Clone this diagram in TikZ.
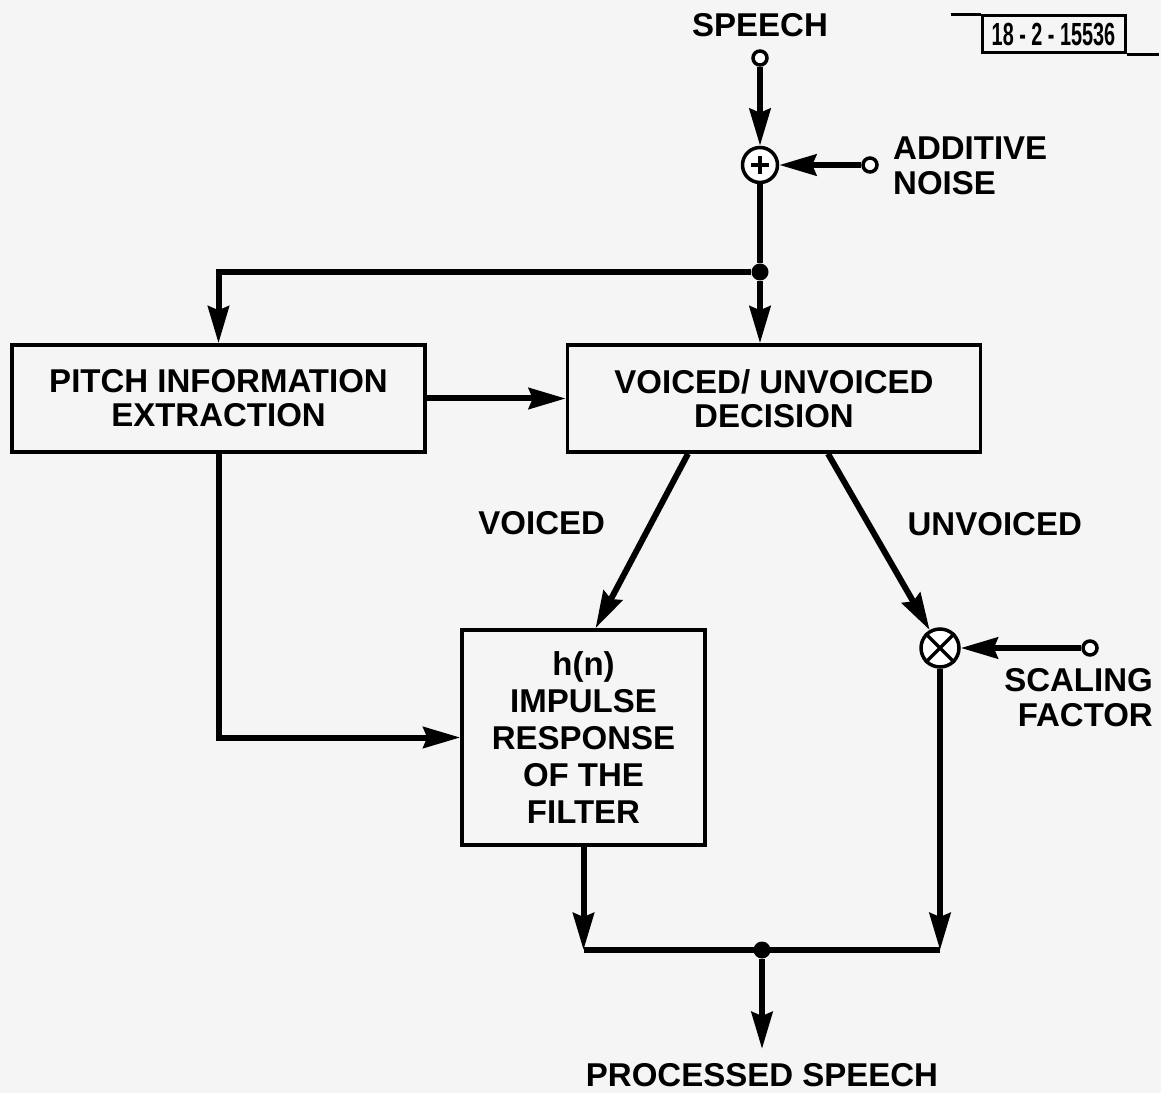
\documentclass[tikz,border=0pt]{standalone}
\usepackage{fontspec}
\setmainfont{Liberation Sans}
\usepackage{graphicx}
\usepackage{tikz}
\usetikzlibrary{positioning,arrows.meta,shapes}
\tikzstyle{blk}=[draw, line width=3.5pt, minimum height=107pt, minimum width=413pt, align=center, inner sep=0pt, font=\fontsize{33}{34}\selectfont\bfseries]
\tikzstyle{filt}=[draw, line width=3.5pt, minimum height=215pt, minimum width=243pt, align=center, inner sep=0pt, font=\fontsize{33}{37}\selectfont\bfseries]
\tikzstyle{sum}=[draw, circle, line width=3.5pt, minimum size=35pt, inner sep=0pt, fill=white]
\tikzstyle{term}=[draw, circle, line width=3.5pt, minimum size=14pt, inner sep=0pt, fill=white]
\tikzstyle{jdot}=[fill, circle, minimum size=17pt, inner sep=0pt]
\tikzstyle{lbl}=[align=center, inner sep=0pt, font=\fontsize{33}{35}\selectfont\bfseries]
\tikzstyle{sig}=[line width=6pt]

\begin{document}
\begin{tikzpicture}[x=1pt,y=1pt,node distance=2cm,auto,>={Stealth[length=37pt,width=21pt,inset=4pt]}]
\fill[black!4] (0,0) rectangle (1161,1093);
\useasboundingbox (0,0) rectangle (1161,1093);

\node[blk] at (218.5,694.5) (pitch) {PITCH INFORMATION\\EXTRACTION};
\node[blk, right of = pitch, node distance = 555.5pt] (vuv) {VOICED/ UNVOICED\\DECISION};
\node[filt] at (583.5,355.5) (filter) {h(n)\\IMPULSE\\RESPONSE\\OF THE\\FILTER};

\node[sum] at (760,928) (adder) {};
\draw[line width=4pt] (adder.center) +(-9,0) -- +(9,0) +(0,-9) -- +(0,9);
\node[term] at (760,1035) (sin) {};
\node[lbl] at (760,1068) (speech) {SPEECH};
\node[term] at (870,928) (nin) {};
\node[lbl, anchor=west, align=left] at (893,927.5) (noise) {ADDITIVE\\NOISE};
\node[jdot] at (760,821) (tj) {};

\node[sum, minimum size=38pt] at (940,445) (mult) {};
\draw[line width=3.5pt] (mult.north east) -- (mult.south west) (mult.north west) -- (mult.south east);
\node[term] at (1090,445) (scin) {};
\node[lbl, anchor=east, align=right] at (1153,395.5) (scale) {SCALING\\FACTOR};

\coordinate (bl) at (583.5,143);
\coordinate (br) at (940,143);
\node[jdot] at (762,143) (oj) {};
\coordinate (otip) at (762,44);
\node[lbl] at (762,18) (out) {PROCESSED SPEECH};

\draw[sig,->] (sin) -- (adder);
\draw[sig,->] (nin) -- (adder);
\draw[sig] (adder) -- (tj);
\draw[sig,->] (tj) -- (tj |- vuv.north);
\draw[sig,->] (tj) -| (pitch.north);
\draw[sig,->] (pitch) -- (vuv);
\draw[sig,->] (pitch.south) |- (filter.west);
\draw[sig,->] ([xshift=-86pt]vuv.south) -- node[lbl, left=43pt, pos=0.4] (vlab) {VOICED} ([xshift=12pt]filter.north);
\draw[sig,->] ([xshift=54pt]vuv.south) -- node[lbl, right=36pt, pos=0.4] (ulab) {UNVOICED} (mult);
\draw[sig,->] (scin) -- (mult);
\draw[sig,->] (filter.south) -- (bl);
\draw[sig,->] (mult.south) -- (br);
\draw[sig] (bl) -- (br);
\draw[sig,->] (oj) -- (otip);

\node[draw, line width=3pt, minimum width=143pt, minimum height=37pt, inner sep=0pt, font=\fontsize{32}{32}\selectfont\bfseries] at (1053.5,1058.5) (tag) {\scalebox{0.62}[1]{18 - 2 - 15536}};
\draw[line width=3pt] ([xshift=-30pt]tag.north west) -- (tag.north west);
\draw[line width=3pt] (tag.south east) -- ([xshift=32pt]tag.south east);
\end{tikzpicture}
\end{document}
